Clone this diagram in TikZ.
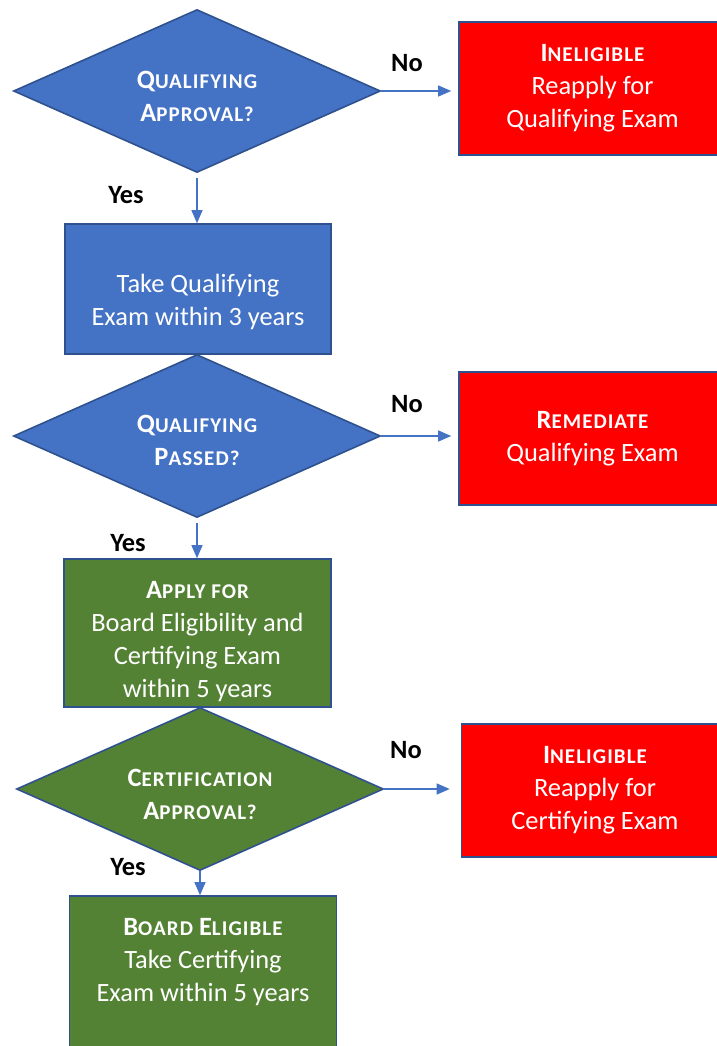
\documentclass[tikz,border=0pt]{standalone}
\usepackage{fontspec}
\setmainfont{Carlito}
\usepackage{tikz}
\usetikzlibrary{shapes.geometric}
\usetikzlibrary{arrows.meta}
\definecolor{chartblue}{HTML}{4472C4}
\definecolor{chartgreen}{HTML}{548235}
\definecolor{chartred}{HTML}{FF0000}
\definecolor{chartedge}{HTML}{2F528F}
% fake small caps: big first letter, the rest smaller
\newcommand\smcap[2]{#1{\fontsize{21pt}{33pt}\selectfont\addfontfeature{LetterSpace=5}#2}}
\tikzset{
  every node/.style={
    inner sep=0pt,
    font=\fontsize{26.4pt}{33pt}\selectfont,
  },
  question/.style={
    diamond,
    draw=chartedge,
    line width=1.6pt,
    text=white,
    align=center,
    minimum width=367pt,
    minimum height=163pt,
  },
  question blue/.style={
    question,
    fill=chartblue,
  },
  question green/.style={
    question,
    fill=chartgreen,
  },
  taskbox/.style={
    rectangle,
    draw=chartedge,
    line width=1.6pt,
    text=white,
    align=center,
    minimum width=#1,
  },
  blue box/.style={
    taskbox=266pt,
    fill=chartblue,
    minimum height=130pt,
  },
  green box/.style={
    taskbox=267pt,
    fill=chartgreen,
  },
  stop box/.style={
    taskbox=267pt,
    fill=chartred,
    minimum height=133pt,
  },
  boxtext/.style={
    text=white,
    align=center,
  },
  answer/.style={
    font=\fontsize{26.4pt}{33pt}\selectfont\bfseries,
    text=black,
  },
  flow/.style={
    draw=chartblue,
    line width=1.2pt,
    -{Triangle[length=13pt,width=11pt]},
  },
}
\begin{document}
\begin{tikzpicture}[x=1pt,y=-1pt]
  \useasboundingbox (0,0) rectangle (716,1046);

  % qualifying stage
  \node[question blue] (qualapp) at (197,91) {};
  \node[boxtext] (qualapptext) at (197,96)
    {\bfseries\smcap{Q}{UALIFYING}\\\bfseries\smcap{A}{PPROVAL?}};
  \node[stop box] (inelig1) at (592.5,88.5)
    {\bfseries\smcap{I}{NELIGIBLE}\\Reapply for\\Qualifying Exam};
  \node[blue box] (takequal) at (198,289) {};
  \node[boxtext] (takequaltext) at (198,302)
    {Take Qualifying\\Exam within 3 years};
  \node[question blue] (qualpass) at (197,436) {};
  \node[boxtext] (qualpasstext) at (197,440)
    {\bfseries\smcap{Q}{UALIFYING}\\\bfseries\smcap{P}{ASSED?}};
  \node[stop box] (remed) at (592.5,438.5)
    {\bfseries\smcap{R}{EMEDIATE}\\Qualifying Exam};

  % certifying stage
  \node[green box, minimum height=148pt] (apply) at (197.5,633) {};
  \node[boxtext] (applytext) at (197.5,642)
    {\bfseries\smcap{A}{PPLY FOR}\\Board Eligibility and\\Certifying Exam\\within 5 years};
  \node[question green] (certapp) at (200,789) {};
  \node[boxtext] (certapptext) at (200,794)
    {\bfseries\smcap{C}{ERTIFICATION}\\\bfseries\smcap{A}{PPROVAL?}};
  \node[stop box] (inelig2) at (595,790.5)
    {\bfseries\smcap{I}{NELIGIBLE}\\Reapply for\\Certifying Exam};
  \node[green box, minimum height=156pt] (elig) at (203,974) {};
  \node[boxtext] (eligtext) at (203,962)
    {\bfseries\smcap{B}{OARD} \smcap{E}{LIGIBLE}\\Take Certifying\\Exam within 5 years};

  % connectors
  \draw[flow, shorten >=7pt] (qualapp.east) -- (qualapp.east -| inelig1.west);
  \draw[flow, shorten <=5pt] (qualapp.south) -- (qualapp.south |- takequal.north);
  \draw[flow, shorten >=7pt] (qualpass.east) -- (qualpass.east -| remed.west);
  \draw[flow, shorten <=5pt] (qualpass.south) -- (qualpass.south |- apply.north);
  \draw[flow, shorten >=11pt] (certapp.east) -- (certapp.east -| inelig2.west);
  \draw[flow] (certapp.south) -- (certapp.south |- elig.north);

  % answers
  \node[answer] (no1) at (407,63) {No};
  \node[answer] (yes1) at (126,195) {Yes};
  \node[answer] (no2) at (407,404) {No};
  \node[answer] (yes2) at (128,543) {Yes};
  \node[answer] (no3) at (406,750) {No};
  \node[answer] (yes3) at (128,867) {Yes};
\end{tikzpicture}
\end{document}
